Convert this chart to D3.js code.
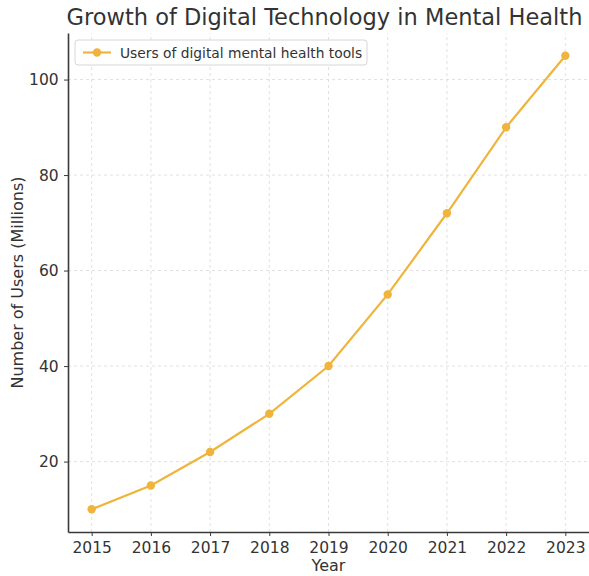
<!DOCTYPE html>
<html>
<head>
<meta charset="utf-8">
<script src="https://cdn.jsdelivr.net/npm/d3@7"></script>
<style>
  html, body { margin: 0; padding: 0; background: #fff; }
  svg { display: block; font-family: "DejaVu Sans", sans-serif; }
</style>
</head>
<body>
<svg id="chart" width="589" height="576"></svg>
<script>
// Users of digital mental health tools, in millions
const years = [2015, 2016, 2017, 2018, 2019, 2020, 2021, 2022, 2023];
const users = [10, 15, 22, 30, 40, 55, 72, 90, 105];
const yTicks = [20, 40, 60, 80, 100];
const seriesName = "Users of digital mental health tools";

const W = 589, H = 576;
const margin = { left: 68, right: 0, top: 33, bottom: 44 };
const lineColor = "#f0b43c";

const svg = d3.select("#chart");
const x0 = margin.left, x1 = W - margin.right;
const y0 = H - margin.bottom, y1 = margin.top;

const padX = (d3.max(years) - d3.min(years)) * 0.05;
const padY = (d3.max(users) - d3.min(users)) * 0.05;
const x = d3.scaleLinear().domain([d3.min(years) - padX, d3.max(years) + padX]).range([x0, x1]);
const y = d3.scaleLinear().domain([d3.min(users) - padY, d3.max(users) + padY]).range([y0, y1]);

// grid
const grid = svg.append("g").attr("stroke", "#d9d9d9").attr("stroke-width", 0.8).attr("stroke-dasharray", "3,3");
grid.selectAll("line.gx").data(years).join("line")
  .attr("x1", d => x(d)).attr("x2", d => x(d)).attr("y1", y0).attr("y2", y1);
grid.selectAll("line.gy").data(yTicks).join("line")
  .attr("x1", x0).attr("x2", x1).attr("y1", d => y(d)).attr("y2", d => y(d));

// axes
const xAxis = svg.append("g").attr("transform", `translate(0,${y0})`)
  .call(d3.axisBottom(x).tickValues(years).tickFormat(d3.format("d")).tickSize(4).tickSizeOuter(0));
const yAxis = svg.append("g").attr("transform", `translate(${x0},0)`)
  .call(d3.axisLeft(y).tickValues(yTicks).tickSize(4).tickSizeOuter(0));
[xAxis, yAxis].forEach(a => {
  a.select(".domain").attr("stroke", "#3a3a3a").attr("stroke-width", 1.6);
  a.selectAll(".tick line").attr("stroke", "#3a3a3a").attr("stroke-width", 1);
  a.selectAll(".tick text").attr("fill", "#333").style("font-size", "15.5px")
    .style("font-family", "'DejaVu Sans', sans-serif");
});
xAxis.selectAll(".tick text").attr("dy", "0.9em");
yAxis.selectAll(".tick text").attr("dx", "-0.15em");

// axis titles
svg.append("text").attr("x", (x0 + x1) / 2 - 0).attr("y", 571)
  .attr("text-anchor", "middle").attr("fill", "#333").style("font-size", "16px").text("Year");
svg.append("text").attr("transform", `translate(23,${(y0 + y1) / 2}) rotate(-90)`)
  .attr("text-anchor", "middle").attr("fill", "#333").style("font-size", "16px")
  .text("Number of Users (Millions)");

// chart title
svg.append("text").attr("x", (x0 + x1) / 2 - 4).attr("y", 25)
  .attr("text-anchor", "middle").attr("fill", "#333").style("font-size", "22.5px")
  .text("Growth of Digital Technology in Mental Health");

// series
const pts = years.map((yr, i) => [yr, users[i]]);
svg.append("path").datum(pts)
  .attr("fill", "none").attr("stroke", lineColor).attr("stroke-width", 2.2)
  .attr("d", d3.line().x(d => x(d[0])).y(d => y(d[1])));
svg.selectAll("circle.pt").data(pts).join("circle")
  .attr("cx", d => x(d[0])).attr("cy", d => y(d[1])).attr("r", 4.2)
  .attr("fill", lineColor);

// legend
const lg = svg.append("g").attr("transform", "translate(75,40)");
lg.append("rect").attr("width", 292).attr("height", 25).attr("rx", 3)
  .attr("fill", "#fff").attr("fill-opacity", 0.85).attr("stroke", "#d6d6d6");
lg.append("line").attr("x1", 8).attr("x2", 36).attr("y1", 12.5).attr("y2", 12.5)
  .attr("stroke", lineColor).attr("stroke-width", 2.2);
lg.append("circle").attr("cx", 22).attr("cy", 12.5).attr("r", 4.2).attr("fill", lineColor);
lg.append("text").attr("x", 45).attr("y", 17.5).attr("fill", "#333")
  .style("font-size", "13.8px").text(seriesName);
</script>
</body>
</html>
